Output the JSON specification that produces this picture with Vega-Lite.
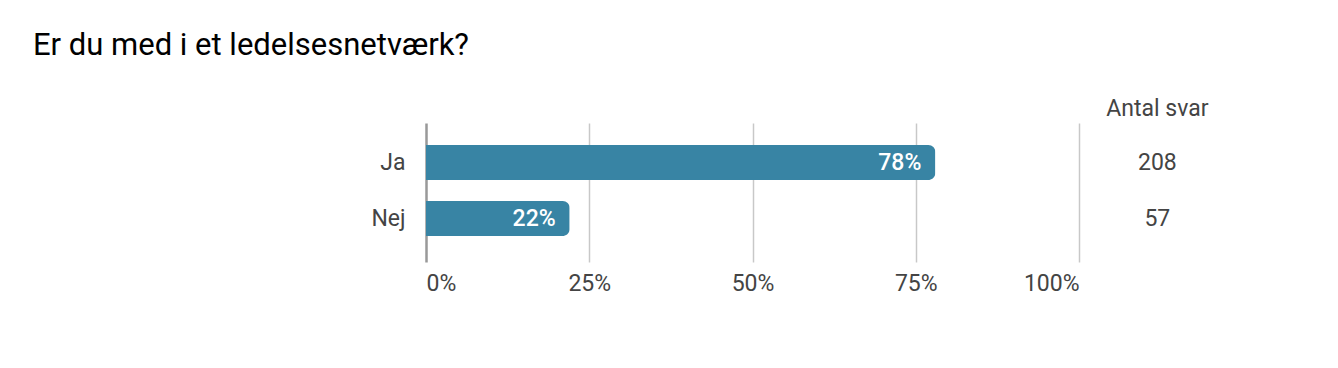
{
  "$schema": "https://vega.github.io/schema/vega-lite/v6.json",
  "autosize": "none",
  "width": 653,
  "height": 139,
  "padding": {"left": 426, "top": 123, "right": 259, "bottom": 106},
  "background": "white",
  "config": {"font": "Roboto", "view": {"stroke": null}},
  "title": {
    "text": "Er du med i et ledelsesnetværk?",
    "anchor": "start",
    "frame": "group",
    "dx": -393,
    "offset": 36,
    "fontSize": 31,
    "fontWeight": "normal",
    "color": "#000000",
    "font": "Roboto"
  },
  "data": {
    "values": [
      {"svar": "Ja", "andel": 0.78, "antal": 208},
      {"svar": "Nej", "andel": 0.22, "antal": 57}
    ]
  },
  "encoding": {
    "y": {
      "field": "svar",
      "type": "nominal",
      "sort": ["Ja", "Nej"],
      "scale": {"paddingInner": 0.375, "paddingOuter": 0.4286, "align": 0.46},
      "axis": {
        "title": null,
        "domain": false,
        "ticks": false,
        "labelFontSize": 23,
        "labelColor": "#444444",
        "labelPadding": 21,
        "labelFont": "Roboto"
      }
    }
  },
  "layer": [
    {
      "mark": {"type": "bar", "color": "#3884a4", "cornerRadiusEnd": 7},
      "encoding": {
        "x": {
          "field": "andel",
          "type": "quantitative",
          "scale": {"domain": [0, 1], "nice": false},
          "axis": {
            "title": null,
            "values": [0, 0.25, 0.5, 0.75, 1],
            "format": ".0%",
            "domain": false,
            "ticks": false,
            "labelFontSize": 23,
            "labelColor": "#444444",
            "labelPadding": 10,
            "labelFont": "Roboto",
            "gridColor": {"condition": {"test": "datum.value === 0", "value": "#999999"}, "value": "#c8c8c8"},
            "gridWidth": {"condition": {"test": "datum.value === 0", "value": 2.5}, "value": 1.5}
          }
        }
      }
    },
    {
      "mark": {"type": "text", "align": "right", "dx": -14, "color": "white", "fontSize": 23, "fontWeight": 500, "font": "Roboto"},
      "encoding": {
        "x": {"field": "andel", "type": "quantitative"},
        "text": {"field": "andel", "type": "quantitative", "format": ".0%"}
      }
    },
    {
      "mark": {"type": "text", "align": "center", "color": "#444444", "fontSize": 23, "font": "Roboto"},
      "encoding": {
        "x": {"datum": 1.12},
        "text": {"field": "antal", "type": "quantitative"}
      }
    },
    {
      "data": {"values": [{"header": "Antal svar", "svar": "Ja"}]},
      "mark": {"type": "text", "align": "center", "color": "#444444", "fontSize": 23, "font": "Roboto", "dy": -54},
      "encoding": {
        "x": {"datum": 1.12},
        "text": {"field": "header", "type": "nominal"}
      }
    }
  ]
}
